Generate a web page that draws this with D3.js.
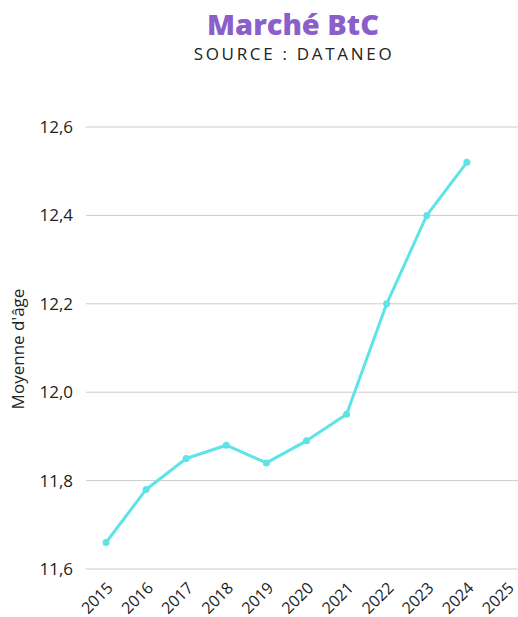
<!DOCTYPE html>
<html>
<head>
<meta charset="utf-8">
<script src="https://cdn.jsdelivr.net/npm/d3@7"></script>
<style>
  body { margin: 0; background: #fff; }
  text { font-family: "Open Sans", sans-serif; fill: #222; }
</style>
</head>
<body>
<div id="chart"></div>
<script>
var years = ["2015", "2016", "2017", "2018", "2019", "2020", "2021", "2022", "2023", "2024", "2025"];
var ageValues = [11.66, 11.78, 11.85, 11.88, 11.84, 11.89, 11.95, 12.2, 12.4, 12.52];
var yTicks = [11.6, 11.8, 12.0, 12.2, 12.4, 12.6];

var svgWidth = 518;
var svgHeight = 617;

var margin = { top: 127, right: -9, bottom: 48, left: 86 };
var width = svgWidth - margin.left - margin.right;
var height = svgHeight - margin.top - margin.bottom;

var svg = d3.select("#chart")
  .append("svg")
  .attr("width", svgWidth)
  .attr("height", svgHeight);

// title
svg.append("text")
  .attr("x", 293)
  .attr("y", 35)
  .attr("text-anchor", "middle")
  .style("font-family", "Open Sans, sans-serif")
  .style("font-weight", "800")
  .style("font-size", "29px")
  .style("fill", "#8b5fc9")
  .text("Marché BtC");

svg.append("text")
  .attr("x", 294)
  .attr("y", 60)
  .attr("text-anchor", "middle")
  .style("font-size", "17px")
  .style("letter-spacing", "2.7px")
  .text("SOURCE : DATANEO");

var chartGroup = svg.append("g")
  .attr("transform", `translate(${margin.left}, ${margin.top})`);

var xScale = d3.scaleBand()
  .domain(years)
  .range([0, width]);

var yScale = d3.scaleLinear()
  .domain([11.6, 12.6])
  .range([height, 0]);

// gridlines
chartGroup.append("g")
  .selectAll("line")
  .data(yTicks)
  .enter()
  .append("line")
  .attr("x1", 0)
  .attr("x2", svgWidth - margin.left)
  .attr("y1", d => yScale(d))
  .attr("y2", d => yScale(d))
  .attr("stroke", "#cccccc")
  .attr("stroke-width", 1);

// y axis labels
var leftAxis = d3.axisLeft(yScale)
  .tickValues(yTicks)
  .tickSize(0)
  .tickPadding(13)
  .tickFormat(d => d3.format(".1f")(d).replace(".", ","));

chartGroup.append("g")
  .call(leftAxis)
  .call(g => g.select(".domain").remove())
  .selectAll("text")
  .style("font-size", "17px")
  .style("font-family", "Open Sans, sans-serif")
  .attr("fill", "#222");

// x axis labels
var bottomAxis = d3.axisBottom(xScale).tickSize(0);

chartGroup.append("g")
  .attr("transform", `translate(0, ${height})`)
  .call(bottomAxis)
  .call(g => g.select(".domain").remove())
  .selectAll("text")
  .style("font-size", "16px")
  .style("font-family", "Open Sans, sans-serif")
  .attr("fill", "#222")
  .attr("text-anchor", "end")
  .attr("x", 0)
  .attr("y", 0)
  .attr("dy", "0.35em")
  .attr("transform", "translate(4, 16) rotate(-45)");

// y axis title
svg.append("text")
  .attr("transform", `translate(24, 349) rotate(-90)`)
  .attr("text-anchor", "middle")
  .style("font-size", "17px")
  .text("Moyenne d'âge");

// line
var line = d3.line()
  .x((d, i) => xScale(years[i]) + xScale.bandwidth() / 2)
  .y(d => yScale(d));

chartGroup.append("path")
  .datum(ageValues)
  .attr("fill", "none")
  .attr("stroke", "#5ee3e6")
  .attr("stroke-width", 3)
  .attr("stroke-linejoin", "round")
  .attr("d", line);

chartGroup.selectAll("circle")
  .data(ageValues)
  .enter()
  .append("circle")
  .attr("cx", (d, i) => xScale(years[i]) + xScale.bandwidth() / 2)
  .attr("cy", d => yScale(d))
  .attr("r", 3.5)
  .attr("fill", "#5ee3e6");
</script>
</body>
</html>
